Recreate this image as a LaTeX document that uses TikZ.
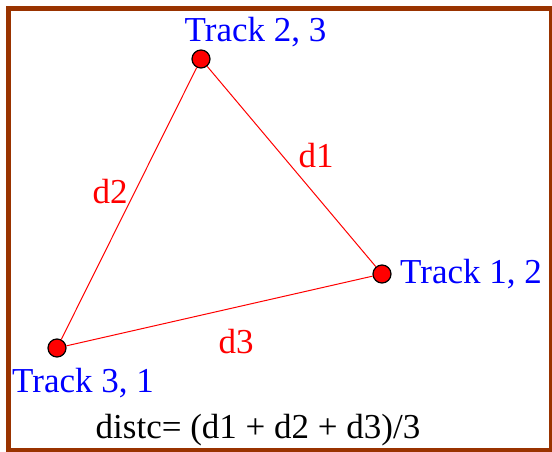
\documentclass[tikz,border=0pt]{standalone}
\usepackage{fontspec}
\setmainfont{Liberation Serif}
\definecolor{framebrown}{RGB}{153,51,0}
\definecolor{trkblue}{RGB}{0,0,255}
\definecolor{dred}{RGB}{255,0,0}
\begin{document}
\begin{tikzpicture}[x=1pt,y=-1pt,
  pt/.style={circle,fill=dred,draw=black,line width=1.2pt,minimum size=18pt,inner sep=0pt},
  trk/.style={text=trkblue,font=\fontsize{35}{35}\selectfont,inner sep=0pt},
  dlab/.style={text=dred,font=\fontsize{35}{35}\selectfont,inner sep=0pt},
  edge/.style={draw=dred,line width=1pt}]
\useasboundingbox (0,0) rectangle (552,452);
\fill[white] (0,0) rectangle (552,452);
\begin{scope}
\clip (0,0) rectangle (552,452);
\draw[framebrown,line width=5pt] (8.5,8.5) rectangle (551.5,450);
\end{scope}
\node[pt] (a) at (201,59) {};
\node[pt] (b) at (382,274) {};
\node[pt] (c) at (57,348) {};
\draw[edge] (a) -- (b);
\draw[edge] (a) -- (c);
\draw[edge] (c) -- (b);
\node[trk,anchor=base] (ta) at (255.5,41.5) {Track 2, 3};
\node[trk,anchor=base west] (tb) at (400,283) {Track 1, 2};
\node[trk,anchor=base west] (tc) at (12,392) {Track 3, 1};
\node[dlab,anchor=base] (d1) at (316,167) {d1};
\node[dlab,anchor=base] (d2) at (110,203) {d2};
\node[dlab,anchor=base] (d3) at (236,353) {d3};
\node[anchor=base,inner sep=0pt,font=\fontsize{35}{35}\selectfont] (f) at (258,438) {distc= (d1 + d2 + d3)/3};
\end{tikzpicture}
\end{document}
